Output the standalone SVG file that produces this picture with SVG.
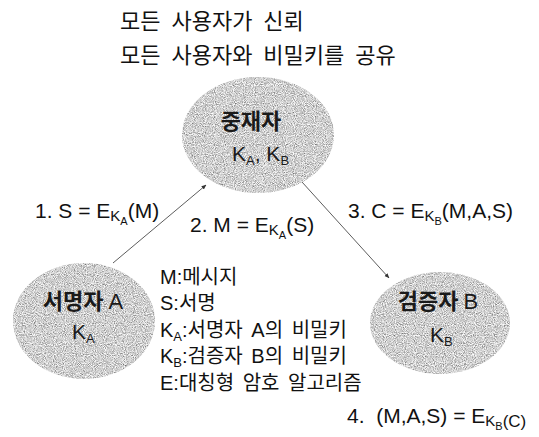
<svg xmlns="http://www.w3.org/2000/svg" width="539" height="437" viewBox="0 0 539 437">
<style>
.t{font-family:"Liberation Sans","Noto Sans CJK KR",sans-serif;fill:#111;}
.k{font-family:"Noto Sans CJK KR","Liberation Sans",sans-serif;fill:#111;word-spacing:6px;}
.n{font-family:"Noto Sans CJK KR","Liberation Sans",sans-serif;fill:#1a1a1a;font-size:22px;font-weight:bold;}
.nl{font-family:"Liberation Sans","Noto Sans CJK KR",sans-serif;fill:#1a1a1a;font-size:21px;}
.blob{fill:#a4a4a4;filter:url(#speck);}
.c{stroke:#333;stroke-width:0.8;fill:none;marker-end:url(#ah);}
</style>
<defs>
<filter id="speck" x="0" y="0" width="1" height="1">
<feTurbulence type="fractalNoise" baseFrequency="1.1" numOctaves="1" seed="5" result="n"/>
<feColorMatrix in="n" type="matrix" values="1.5 0 0 0 -0.12  1.5 0 0 0 -0.12  1.5 0 0 0 -0.12  0 0 0 0 1" result="g"/>
<feComposite in="g" in2="SourceGraphic" operator="in"/>
</filter>
<marker id="ah" viewBox="0 0 10 10" refX="9" refY="5" markerWidth="5" markerHeight="5" orient="auto" markerUnits="userSpaceOnUse">
<path d="M0,1 L10,5 L0,9 z" fill="#333"/>
</marker>
</defs>

<g id="title">
<text class="k" x="120" y="29" font-size="22">모든 사용자가 신뢰</text>
<text class="k" x="120" y="63" font-size="22">모든 사용자와 비밀키를 공유</text>
</g>

<g id="connectors">
<line class="c" x1="113" y1="263" x2="206" y2="185"/>
<line class="c" x1="302" y1="182" x2="389" y2="278"/>
</g>

<g id="node-mediator">
<ellipse class="blob" cx="258" cy="135" rx="76" ry="58"/>
<text class="n" x="251" y="129" text-anchor="middle">중재자</text>
<text class="nl" x="232" y="161">K<tspan font-size="13" dy="4">A</tspan><tspan dy="-4">, K</tspan><tspan font-size="13" dy="4">B</tspan></text>
</g>

<g id="node-signer">
<ellipse class="blob" cx="84" cy="321" rx="71" ry="58"/>
<text class="n" x="83" y="309" text-anchor="middle">서명자 <tspan font-weight="normal" font-family="Liberation Sans">A</tspan></text>
<text class="nl" x="72" y="339">K<tspan font-size="13" dy="4">A</tspan></text>
</g>

<g id="node-verifier">
<ellipse class="blob" cx="440" cy="323" rx="70" ry="51"/>
<text class="n" x="438" y="309" text-anchor="middle">검증자 <tspan font-weight="normal" font-family="Liberation Sans">B</tspan></text>
<text class="nl" x="430" y="342">K<tspan font-size="13" dy="4">B</tspan></text>
</g>

<g id="labels">
<text class="t" x="35" y="218" font-size="21">1. S = E<tspan font-size="15" dy="3">K</tspan><tspan font-size="11" dy="4">A</tspan><tspan dy="-7">(M)</tspan></text>
<text class="t" x="190" y="232" font-size="21">2. M = E<tspan font-size="15" dy="3">K</tspan><tspan font-size="11" dy="4">A</tspan><tspan dy="-7">(S)</tspan></text>
<text class="t" x="348" y="218" font-size="21">3. C = E<tspan font-size="15" dy="3">K</tspan><tspan font-size="11" dy="4">B</tspan><tspan dy="-7">(M,A,S)</tspan></text>
<text class="t" x="347" y="423" font-size="21" xml:space="preserve">4.  (M,A,S) = E<tspan font-size="15" dy="3">K</tspan><tspan font-size="11" dy="4">B</tspan><tspan font-size="17" dy="-3">(C)</tspan></text>
</g>

<g id="legend" class="t" font-size="20" style="word-spacing:3px">
<text x="160" y="284">M:메시지</text>
<text x="160" y="310">S:서명</text>
<text x="160" y="337">K<tspan font-size="13" dy="4">A</tspan><tspan dy="-4">:서명자 A의 비밀키</tspan></text>
<text x="160" y="363">K<tspan font-size="13" dy="4">B</tspan><tspan dy="-4">:검증자 B의 비밀키</tspan></text>
<text x="160" y="390">E:대칭형 암호 알고리즘</text>
</g>
</svg>
